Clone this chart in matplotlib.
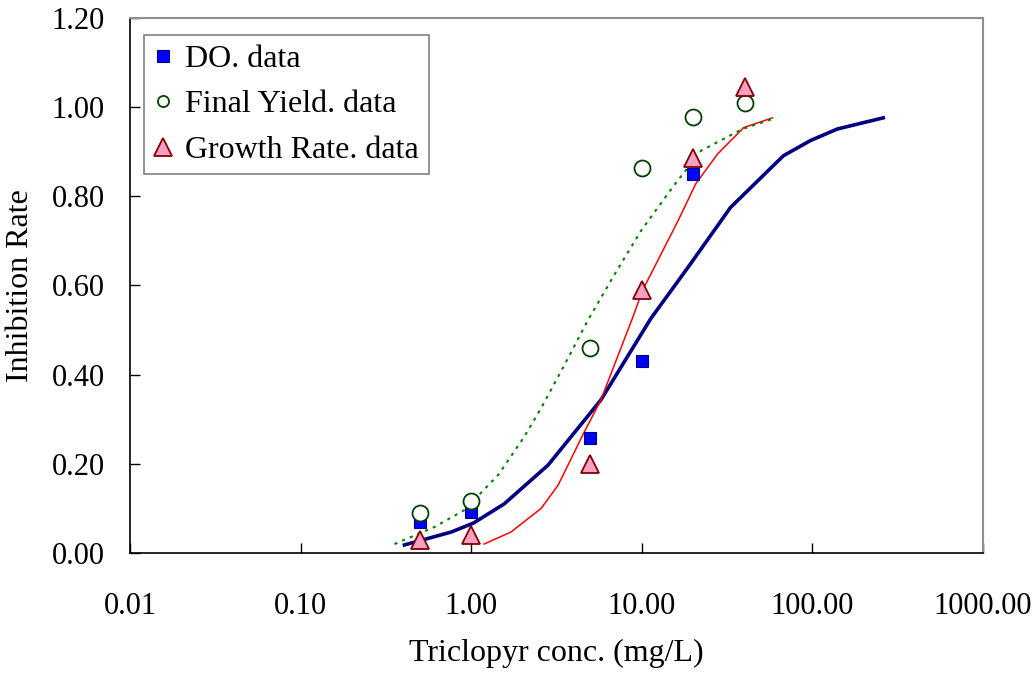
import matplotlib
matplotlib.use("Agg")
import matplotlib.pyplot as plt
from matplotlib.ticker import FixedLocator, FixedFormatter, NullLocator

plt.rcParams['font.family'] = ['Liberation Serif', 'DejaVu Serif']

# measured inhibition at each test concentration (mg/L)
conc = [0.5, 1.0, 5.0, 10.0, 20.0, 40.0]
do_rate = [0.07, 0.092, 0.257, 0.43, 0.85]
yield_rate = [0.09, 0.117, 0.46, 0.864, 0.978, 1.01]
growth_rate = [0.03, 0.04, 0.20, 0.59, 0.885, 1.045]

# fitted dose-response curves
do_fit_x = [0.406, 0.764, 1.03, 1.56, 2.82, 5.75, 11.3, 18.6, 33.1, 67.6, 97.3, 140, 260]
do_fit_y = [0.018, 0.047, 0.067, 0.110, 0.197, 0.343, 0.526, 0.640, 0.775, 0.891, 0.925, 0.951, 0.976]
gr_fit_x = [1.19, 1.71, 2.57, 3.23, 4.58, 5.75, 8.8, 10.1, 12.4, 16.3, 20.7, 27.8, 39.5, 58.3]
gr_fit_y = [0.020, 0.047, 0.10, 0.152, 0.27, 0.343, 0.526, 0.589, 0.656, 0.745, 0.828, 0.895, 0.954, 0.976]
fy_fit_x = [0.355, 0.607, 0.91, 1.44, 2.04, 2.57, 3.5, 4.83, 6.85, 9.9, 15.4, 22.2, 38.9, 60.9]
fy_fit_y = [0.020, 0.058, 0.096, 0.175, 0.26, 0.325, 0.42, 0.522, 0.622, 0.723, 0.824, 0.902, 0.951, 0.976]

x_ticks = [0.01, 0.1, 1, 10, 100, 1000]
x_tick_labels = ["0.01", "0.10", "1.00", "10.00", "100.00", "1000.00"]
y_ticks = [0.0, 0.2, 0.4, 0.6, 0.8, 1.0, 1.2]
y_tick_labels = ["0.00", "0.20", "0.40", "0.60", "0.80", "1.00", "1.20"]

fig = plt.figure(figsize=(10.35, 6.76), dpi=100)
ax = fig.add_axes([0.1256, 0.182, 0.8242, 0.7914])

ax.plot(do_fit_x, do_fit_y, color='#000080', lw=2.6, zorder=2)
ax.plot(gr_fit_x, gr_fit_y, color='red', lw=1.1, zorder=2)
ax.plot(fy_fit_x, fy_fit_y, color='green', lw=1.5, dashes=(1.5, 2.5), zorder=2)

ax.plot(conc[:len(do_rate)], do_rate, ls='none', marker='s', ms=9,
        mfc='#0000ff', mec='#000080', mew=0.8, label='DO. data', zorder=3)
ax.plot(conc, yield_rate, ls='none', marker='o', ms=11.5,
        mfc='white', mec='#004000', mew=1.3, label='Final Yield. data', zorder=3)
ax.plot(conc, growth_rate, ls='none', marker='^', ms=13,
        mfc='#f79fc5', mec='#800000', mew=1.3, label='Growth Rate. data', zorder=3)

ax.set_xscale('log')
ax.set_xlim(0.01, 1000)
ax.set_ylim(0, 1.2)
ax.xaxis.set_major_locator(FixedLocator(x_ticks))
ax.xaxis.set_major_formatter(FixedFormatter(x_tick_labels))
ax.xaxis.set_minor_locator(NullLocator())
ax.yaxis.set_major_locator(FixedLocator(y_ticks))
ax.yaxis.set_major_formatter(FixedFormatter(y_tick_labels))

ax.tick_params(axis='both', direction='in', length=7, width=1, labelsize=22)
ax.tick_params(axis='x', pad=28, top=False)
ax.tick_params(axis='y', pad=18, right=False)

for side in ['left', 'bottom']:
    ax.spines[side].set_color('black')
    ax.spines[side].set_linewidth(1.2)
for side in ['top', 'right']:
    ax.spines[side].set_color('#909090')
    ax.spines[side].set_linewidth(1.5)

ax.set_xlabel('Triclopyr conc. (mg/L)', fontsize=23, labelpad=13)
ax.set_ylabel('Inhibition Rate', fontsize=23, labelpad=12)

leg = ax.legend(loc='upper left', bbox_to_anchor=(0.016, 0.968), fontsize=23,
                handlelength=0.6, handletextpad=0.4,
                borderpad=0.3, labelspacing=0.5, fancybox=False,
                framealpha=1, edgecolor='#808080', borderaxespad=0)
leg.get_frame().set_linewidth(1.2)
# smaller symbols in the key box
for handle, size in zip(leg.legend_handles, [8, 8, 12.5]):
    handle.set_markersize(size)

fig.savefig('out.png', dpi=100)
